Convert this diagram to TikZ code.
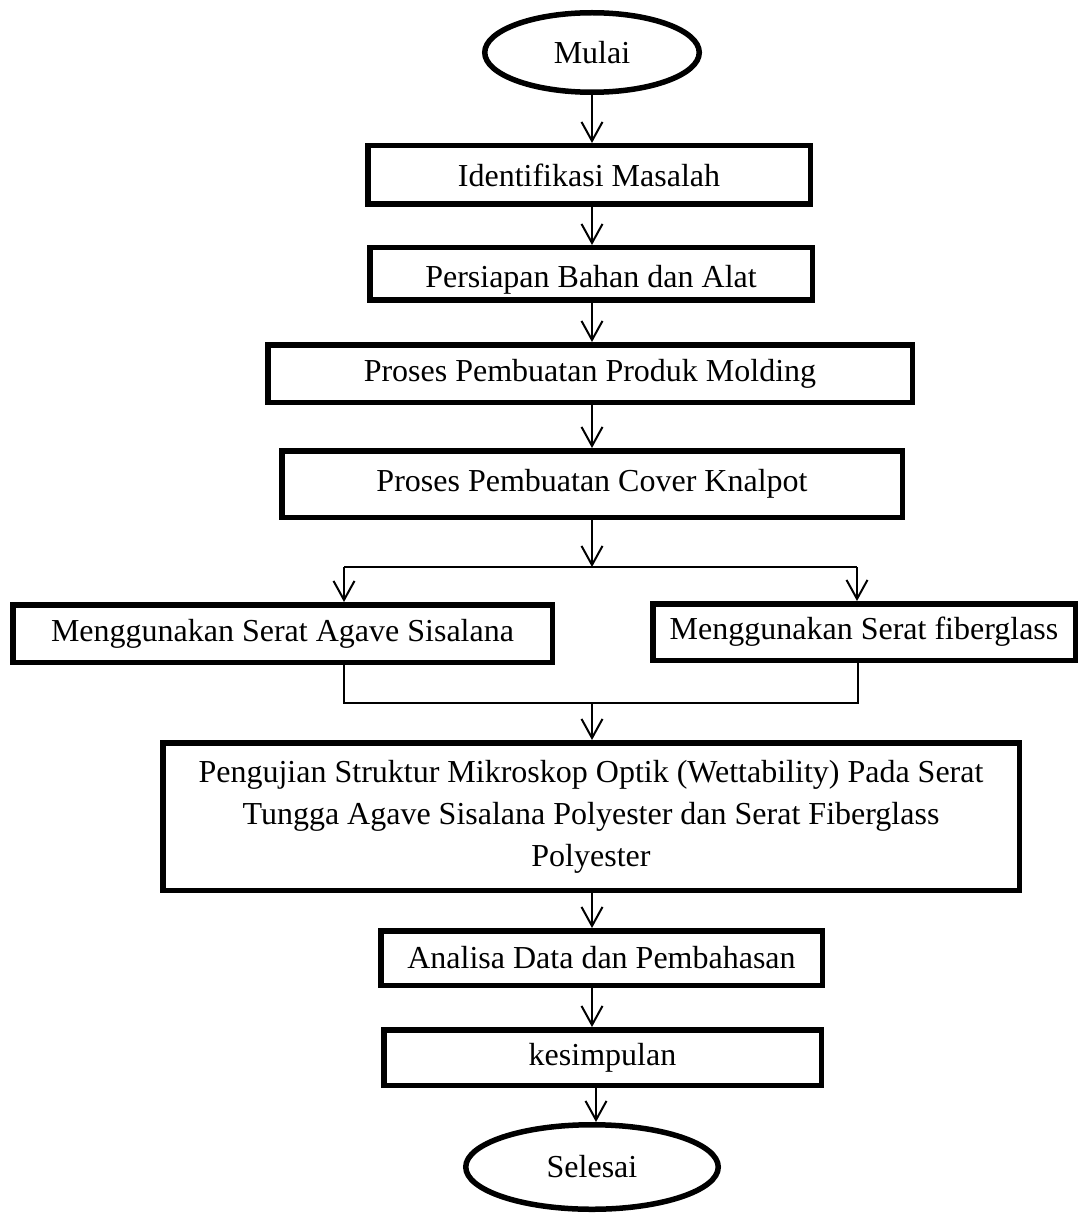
\documentclass[tikz,border=0pt]{standalone}
\usepackage{fontspec}
\setmainfont{Liberation Serif}
\usetikzlibrary{arrows.meta,shapes.geometric}
\begin{document}
\begin{tikzpicture}[x=1pt,y=-1pt,
  every node/.style={font=\fontsize{32}{42}\selectfont},
  box/.style={draw,line width=5.5pt,rectangle,inner sep=0pt},
  oval/.style={draw,line width=5.5pt,ellipse,inner sep=0pt},
  arr/.style={line width=2pt,-{Straight Barb[length=19pt,width=21pt,line width=2pt]}},
  ln/.style={line width=2pt}]
\useasboundingbox (0,0) rectangle (1081,1214);
\node[oval,minimum width=214.5pt,minimum height=79.5pt] (mulai) at (592,52.5) {Mulai};
\node[box,minimum width=442.5pt,minimum height=58.5pt] (ident) at (589,175) {Identifikasi Masalah};
\node[box,minimum width=442.5pt,minimum height=52.5pt] (siap) at (591,274) {\raisebox{-6pt}[\height][\depth]{Persiapan Bahan dan Alat}};
\node[box,minimum width=644.5pt,minimum height=57.5pt] (mold) at (590,373.5) {Proses Pembuatan Produk Molding};
\node[box,minimum width=620.5pt,minimum height=66.5pt] (cover) at (592,484) {Proses Pembuatan Cover Knalpot};
\node[box,minimum width=539.5pt,minimum height=57.5pt] (kiri) at (282.5,633.5) {Menggunakan Serat Agave Sisalana};
\node[box,minimum width=422.5pt,minimum height=56.5pt] (kanan) at (864,632) {Menggunakan Serat fiberglass};
\node[box,minimum width=856.5pt,minimum height=147.5pt,align=center] (uji) at (591,816.5) {Pengujian Struktur Mikroskop Optik (Wettability) Pada Serat\\Tungga Agave Sisalana Polyester dan Serat Fiberglass\\Polyester};
\node[box,minimum width=441.5pt,minimum height=54.5pt] (analisa) at (601.5,958) {Analisa Data dan Pembahasan};
\node[box,minimum width=437.5pt,minimum height=55.5pt] (simpul) at (602.5,1057.5) {kesimpulan};
\node[oval,minimum width=252.5pt,minimum height=84.5pt] (selesai) at (592,1167) {Selesai};
\coordinate (jm) at (592,567);
\coordinate (jl) at (344,567);
\coordinate (jr) at (857,567);
\coordinate (bl) at (344,703);
\coordinate (br) at (858,703);
\coordinate (bm) at (592,703);
\coordinate (sx) at (596,1100);
\draw[arr] (mulai.south) -- (mulai.south |- ident.north);
\draw[arr] (ident.south -| mulai.south) -- (siap.north -| mulai.south);
\draw[arr] (siap.south -| mulai.south) -- (mold.north -| mulai.south);
\draw[arr] (mold.south -| mulai.south) -- (cover.north -| mulai.south);
\draw[arr] (cover.south -| jm) -- (jm);
\draw[ln] (jl) -- (jr);
\draw[arr] (jl) -- (jl |- kiri.north);
\draw[arr] (jr) -- (jr |- kanan.north);
\draw[ln] (bl |- kiri.south) -- (bl) -- (br) -- (br |- kanan.south);
\draw[arr] (bm) -- (bm |- uji.north);
\draw[arr] (uji.south -| bm) -- (analisa.north -| bm);
\draw[arr] (analisa.south -| bm) -- (simpul.north -| bm);
\draw[arr] (simpul.south -| sx) -- (sx |- selesai.north);
\end{tikzpicture}
\end{document}
